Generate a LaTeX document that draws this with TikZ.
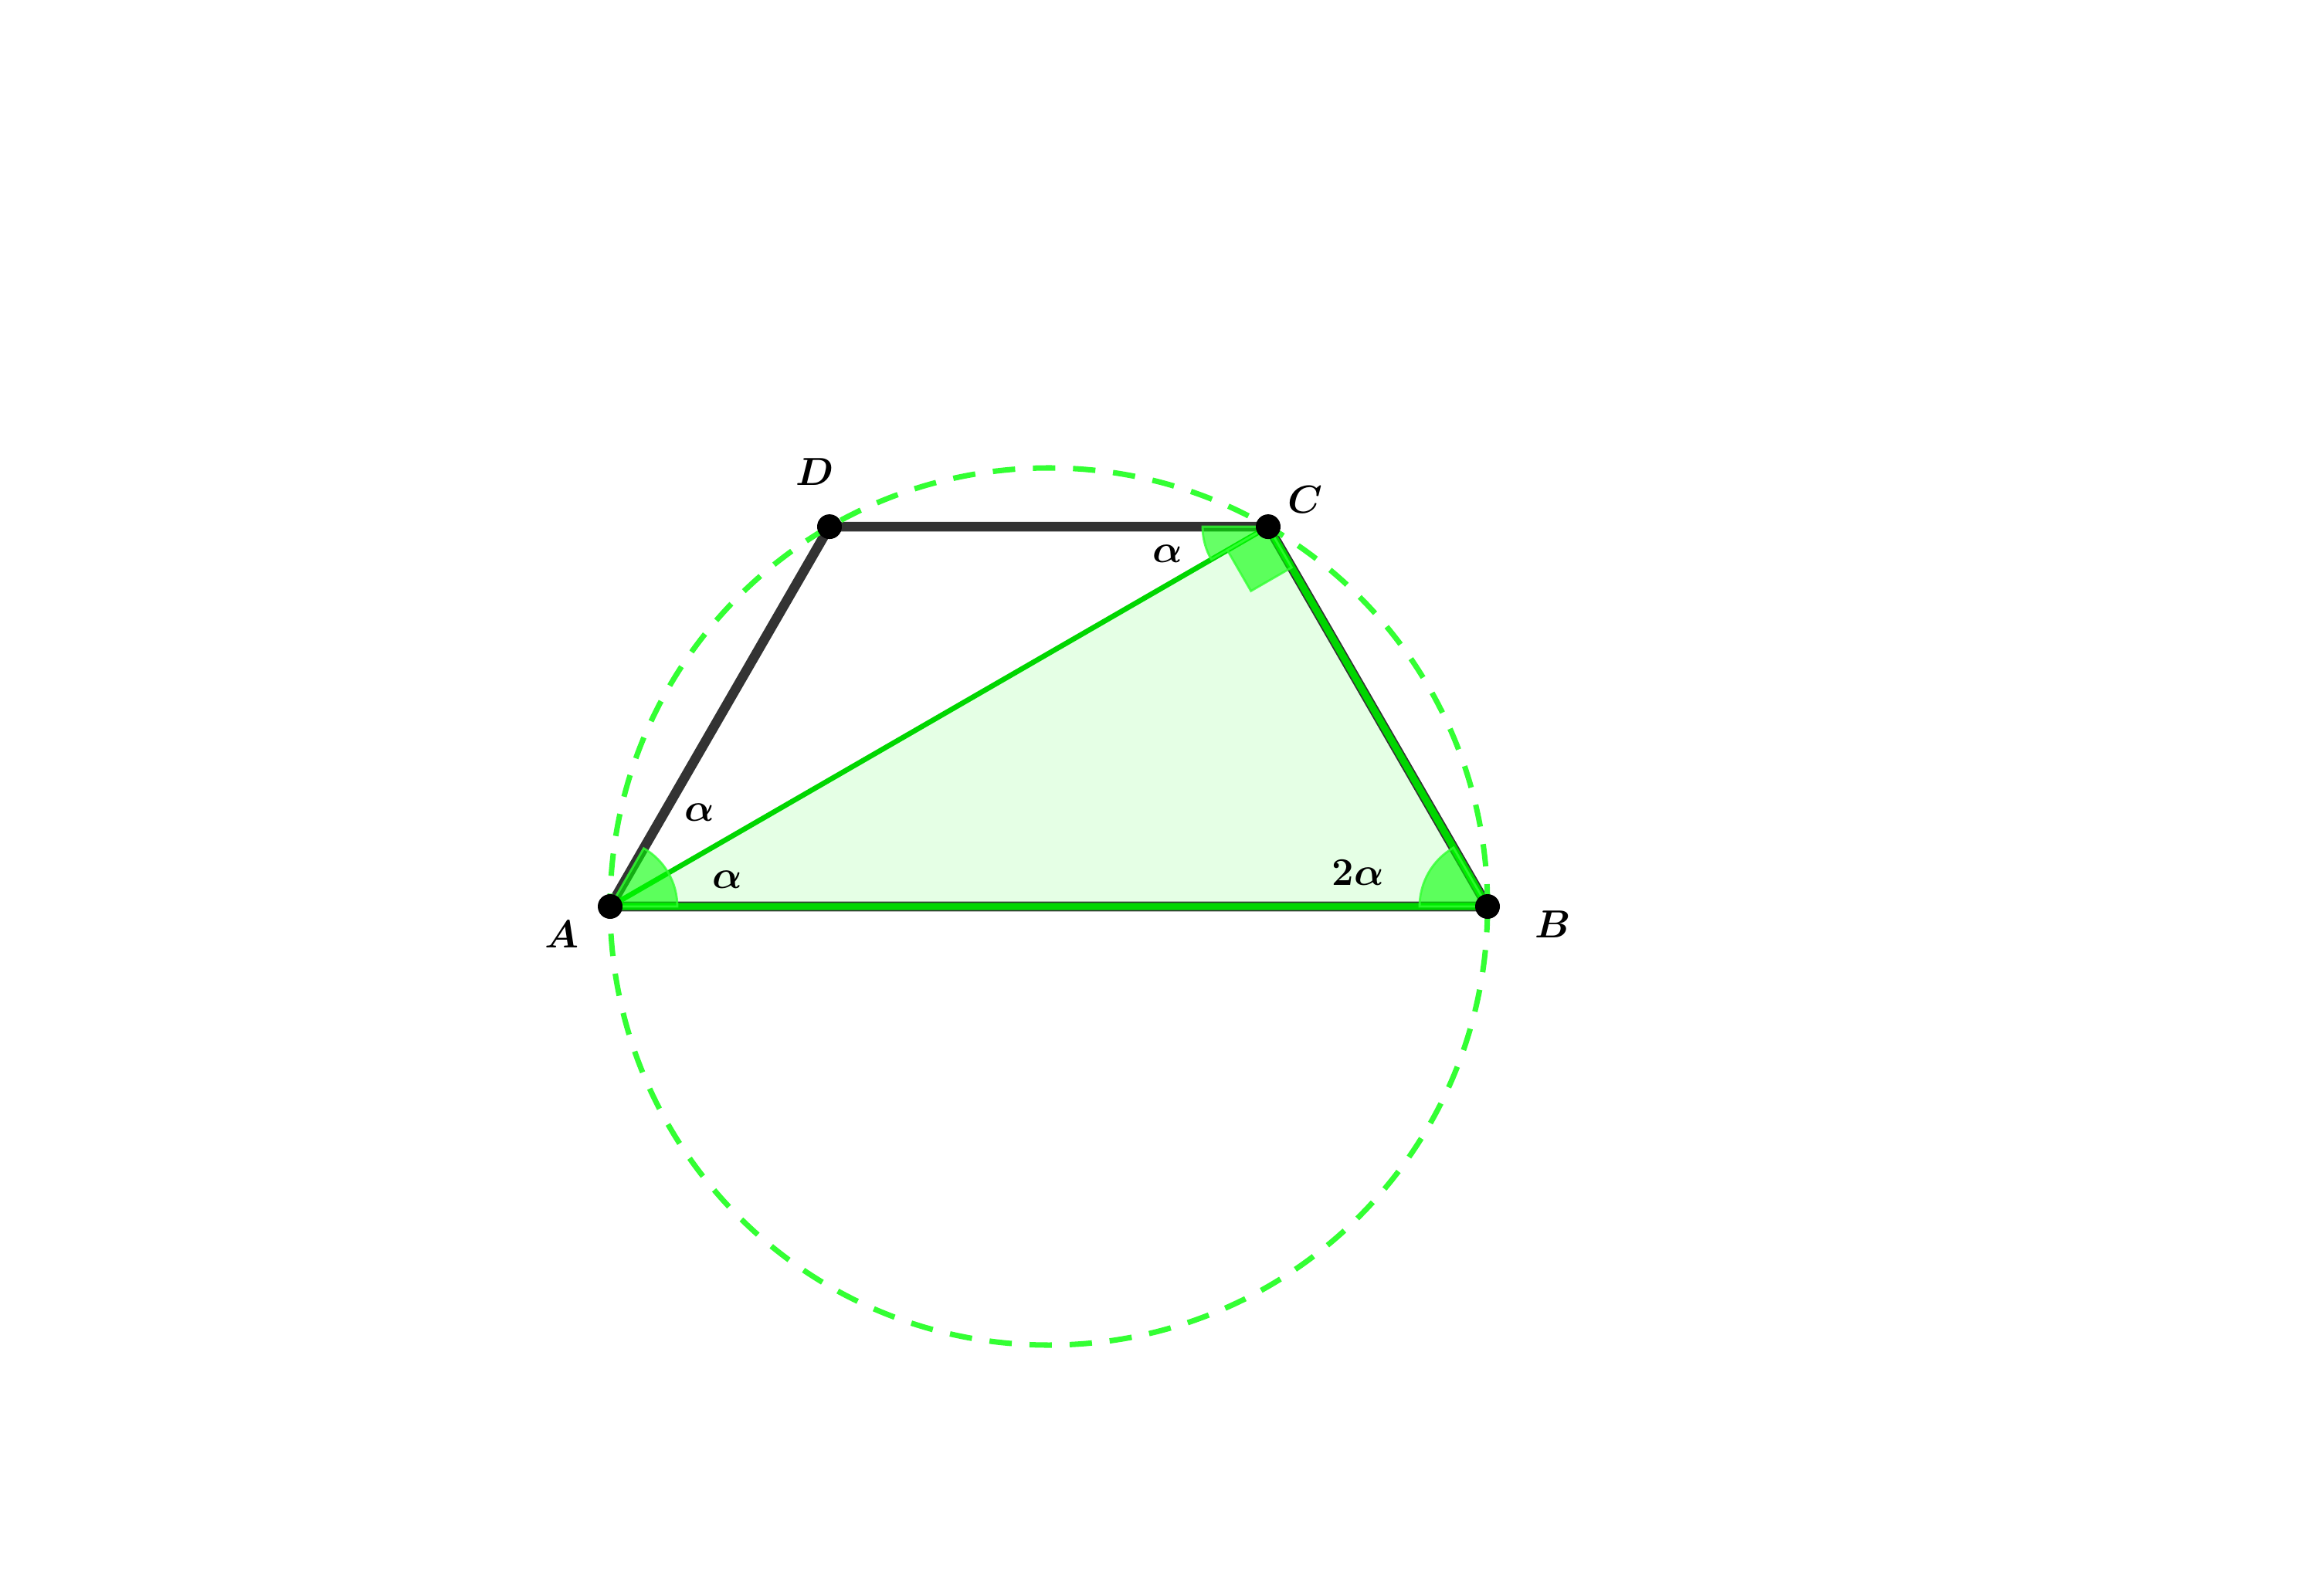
\documentclass[tikz,border=0pt]{standalone}
\usetikzlibrary{calc}
\definecolor{trapcol}{HTML}{333333}
\definecolor{tricol}{HTML}{00D600}
\definecolor{circcol}{HTML}{33FF33}
\definecolor{angfill}{HTML}{00FF00}
\begin{document}
\begin{tikzpicture}[
  lbl/.style={font=\fontsize{15}{18}\selectfont\boldmath, inner sep=0pt},
  trapline/.style={draw=trapcol, line width=3.6pt, line cap=round},
  triline/.style={draw=tricol, line width=2.6pt},
  diagline/.style={draw=tricol, line width=1.9pt},
  angmark/.style={fill=angfill, fill opacity=0.6, draw=circcol, draw opacity=0.8, line width=0.8pt},
  ptdot/.style={circle, fill=black, inner sep=0pt, minimum size=0.32cm},
  circline/.style={draw=circcol, line width=2pt, dash pattern=on 0.29cm off 0.23cm}
]
\useasboundingbox (-7.90,-8.92) rectangle (22.10,11.74);
\coordinate (A) at (0,0);
\coordinate (B) at (11.36,0);
\coordinate (C) at (8.52,4.919);
\coordinate (D) at (2.84,4.919);
\coordinate (O) at (5.68,0);
% triangle fill
\fill[angfill, opacity=0.1] (A) -- (B) -- (C) -- cycle;
% trapezoid
\draw[trapline] (A) -- (B) -- (C) -- (D) -- cycle;
% triangle sides
\draw[triline] (A) -- (B) -- (C);
\draw[diagline] (A) -- (C);
% angle marks
\path[angmark] (A) -- ++(0:0.87) arc[start angle=0, end angle=60, radius=0.87] -- cycle;
\path[angmark] (B) -- ++(120:0.88) arc[start angle=120, end angle=180, radius=0.88] -- cycle;
\path[angmark] (C) -- ++(180:0.85) arc[start angle=180, end angle=210, radius=0.85] -- cycle;
\path[angmark] (C) -- ($(C)+(210:0.61)$) -- ($(C)+(210:0.61)+(300:0.61)$) -- ($(C)+(300:0.61)$) -- cycle;
% circle
\draw[circline] (O) circle[radius=5.68];
% points
\node[ptdot] (pA) at (A) {};
\node[ptdot] (pB) at (B) {};
\node[ptdot] (pC) at (C) {};
\node[ptdot] (pD) at (D) {};
% labels
\node[lbl] (lA) at (-0.62,-0.36) {$A$};
\node[lbl] (lB) at (12.21,-0.23) {$B$};
\node[lbl] (lC) at (9.00,5.27) {$C$};
\node[lbl] (lD) at (2.65,5.63) {$D$};
\node[lbl] (a1) at (1.16,1.22) {$\alpha$};
\node[lbl] (a2) at (1.52,0.35) {$\alpha$};
\node[lbl] (a3) at (7.22,4.57) {$\alpha$};
\node[lbl] (a4) at (9.68,0.44) {$2\alpha$};
\end{tikzpicture}
\end{document}
